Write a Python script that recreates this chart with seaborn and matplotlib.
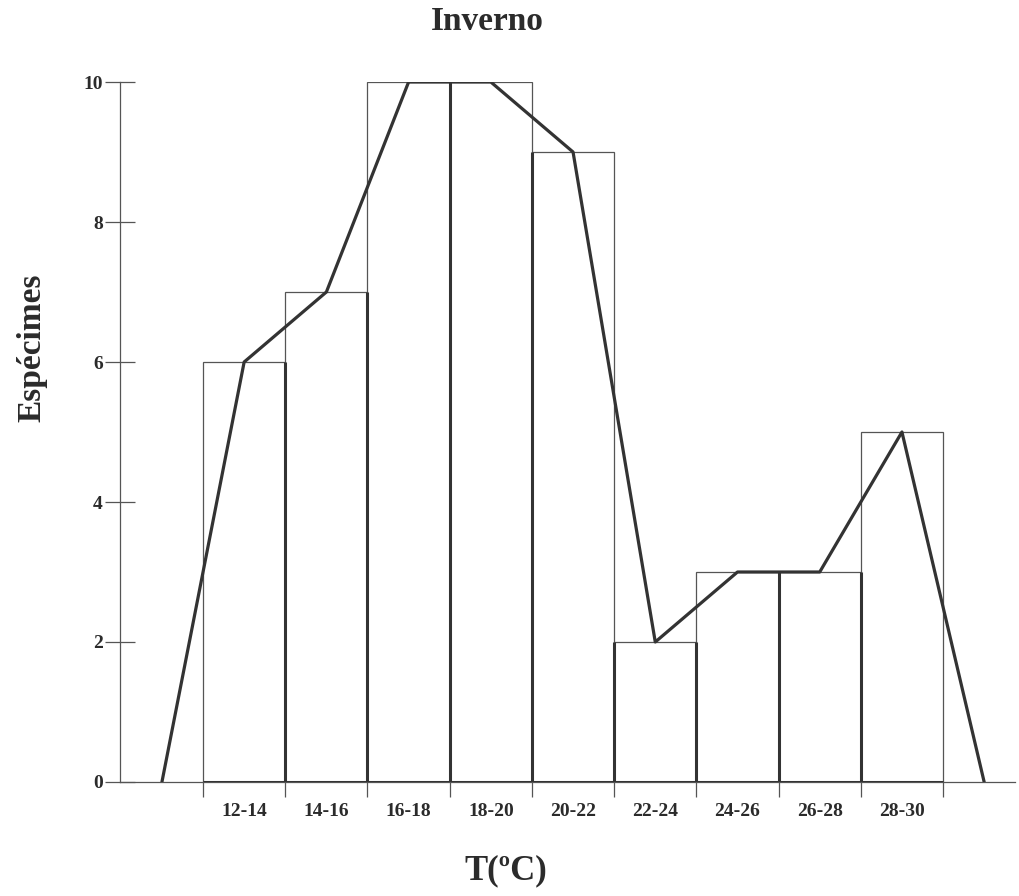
import matplotlib
matplotlib.use("Agg")
import matplotlib.pyplot as plt
import seaborn as sns
import numpy as np

# ---- data ----
categories = ["12-14", "14-16", "16-18", "18-20", "20-22", "22-24", "24-26", "26-28", "28-30"]
bin_edges = [12, 14, 16, 18, 20, 22, 24, 26, 28, 30]
counts = [6, 7, 10, 10, 9, 2, 3, 3, 5]
y_ticks = [0, 2, 4, 6, 8, 10]
title = "Inverno"
x_label = "T(ºC)"
y_label = "Espécimes"

sns.set_style("white")
plt.rcParams["font.family"] = ["Liberation Serif", "DejaVu Serif"]
plt.rcParams["font.weight"] = "bold"

txt = "#2b2b2b"
edge = "#555555"
dark = "#333333"

mids = [(a + b) / 2 for a, b in zip(bin_edges[:-1], bin_edges[1:])]
width = bin_edges[1] - bin_edges[0]
poly_x = [mids[0] - width] + mids + [mids[-1] + width]
poly_y = [0] + counts + [0]

fig = plt.figure(figsize=(10.19, 8.96), dpi=100)
ax = fig.add_axes([120 / 1019, 1 - 782 / 896, (1015 - 120) / 1019, (782 - 82) / 896])

sns.histplot(x=mids, weights=counts, bins=bin_edges, fill=False, color=edge,
             linewidth=0.9, ax=ax)

# shared inner bar edges look heavier
inner = bin_edges[1:-1]
inner_h = [min(a, b) for a, b in zip(counts[:-1], counts[1:])]
ax.vlines(inner, 0, inner_h, color=dark, linewidth=2.2, zorder=3)
ax.hlines(0, bin_edges[0], bin_edges[-1], color=dark, linewidth=2.2, zorder=3)

sns.lineplot(x=poly_x, y=poly_y, color=dark, linewidth=2.3, ax=ax, zorder=4)

ax.set_xlim(9.98, 31.75)
ax.set_ylim(0, 10)
ax.set_xlabel("")
ax.set_ylabel("")

for s in ["top", "right"]:
    ax.spines[s].set_visible(False)
for s in ["left", "bottom"]:
    ax.spines[s].set_color(edge)
    ax.spines[s].set_linewidth(0.9)

ax.set_yticks(y_ticks)
ax.set_yticklabels([str(v) for v in y_ticks], fontsize=14, fontweight="bold", color=txt)
ax.tick_params(axis="y", direction="inout", length=21.6, width=0.9, color=edge, pad=1.5, left=True)

ax.set_xticks(bin_edges)
ax.set_xticklabels([""] * len(bin_edges))
ax.set_xticks(mids, minor=True)
ax.set_xticklabels(categories, minor=True, fontsize=14, fontweight="bold", color=txt)
ax.tick_params(axis="x", which="major", direction="out", length=11, width=0.9, color=edge, bottom=True)
ax.tick_params(axis="x", which="minor", length=0, pad=15, bottom=True)

fig.text(487 / 1019, 1 - 22 / 896, title, ha="center", va="center", fontsize=24,
         fontweight="bold", color=txt)
fig.text(506 / 1019, 1 - 871 / 896, x_label, ha="center", va="center", fontsize=25,
         fontweight="bold", color=txt)
fig.text(32 / 1019, 1 - 348 / 896, y_label, ha="center", va="center", fontsize=24,
         fontweight="bold", color=txt, rotation=90)

fig.savefig("out.png", dpi=100)
